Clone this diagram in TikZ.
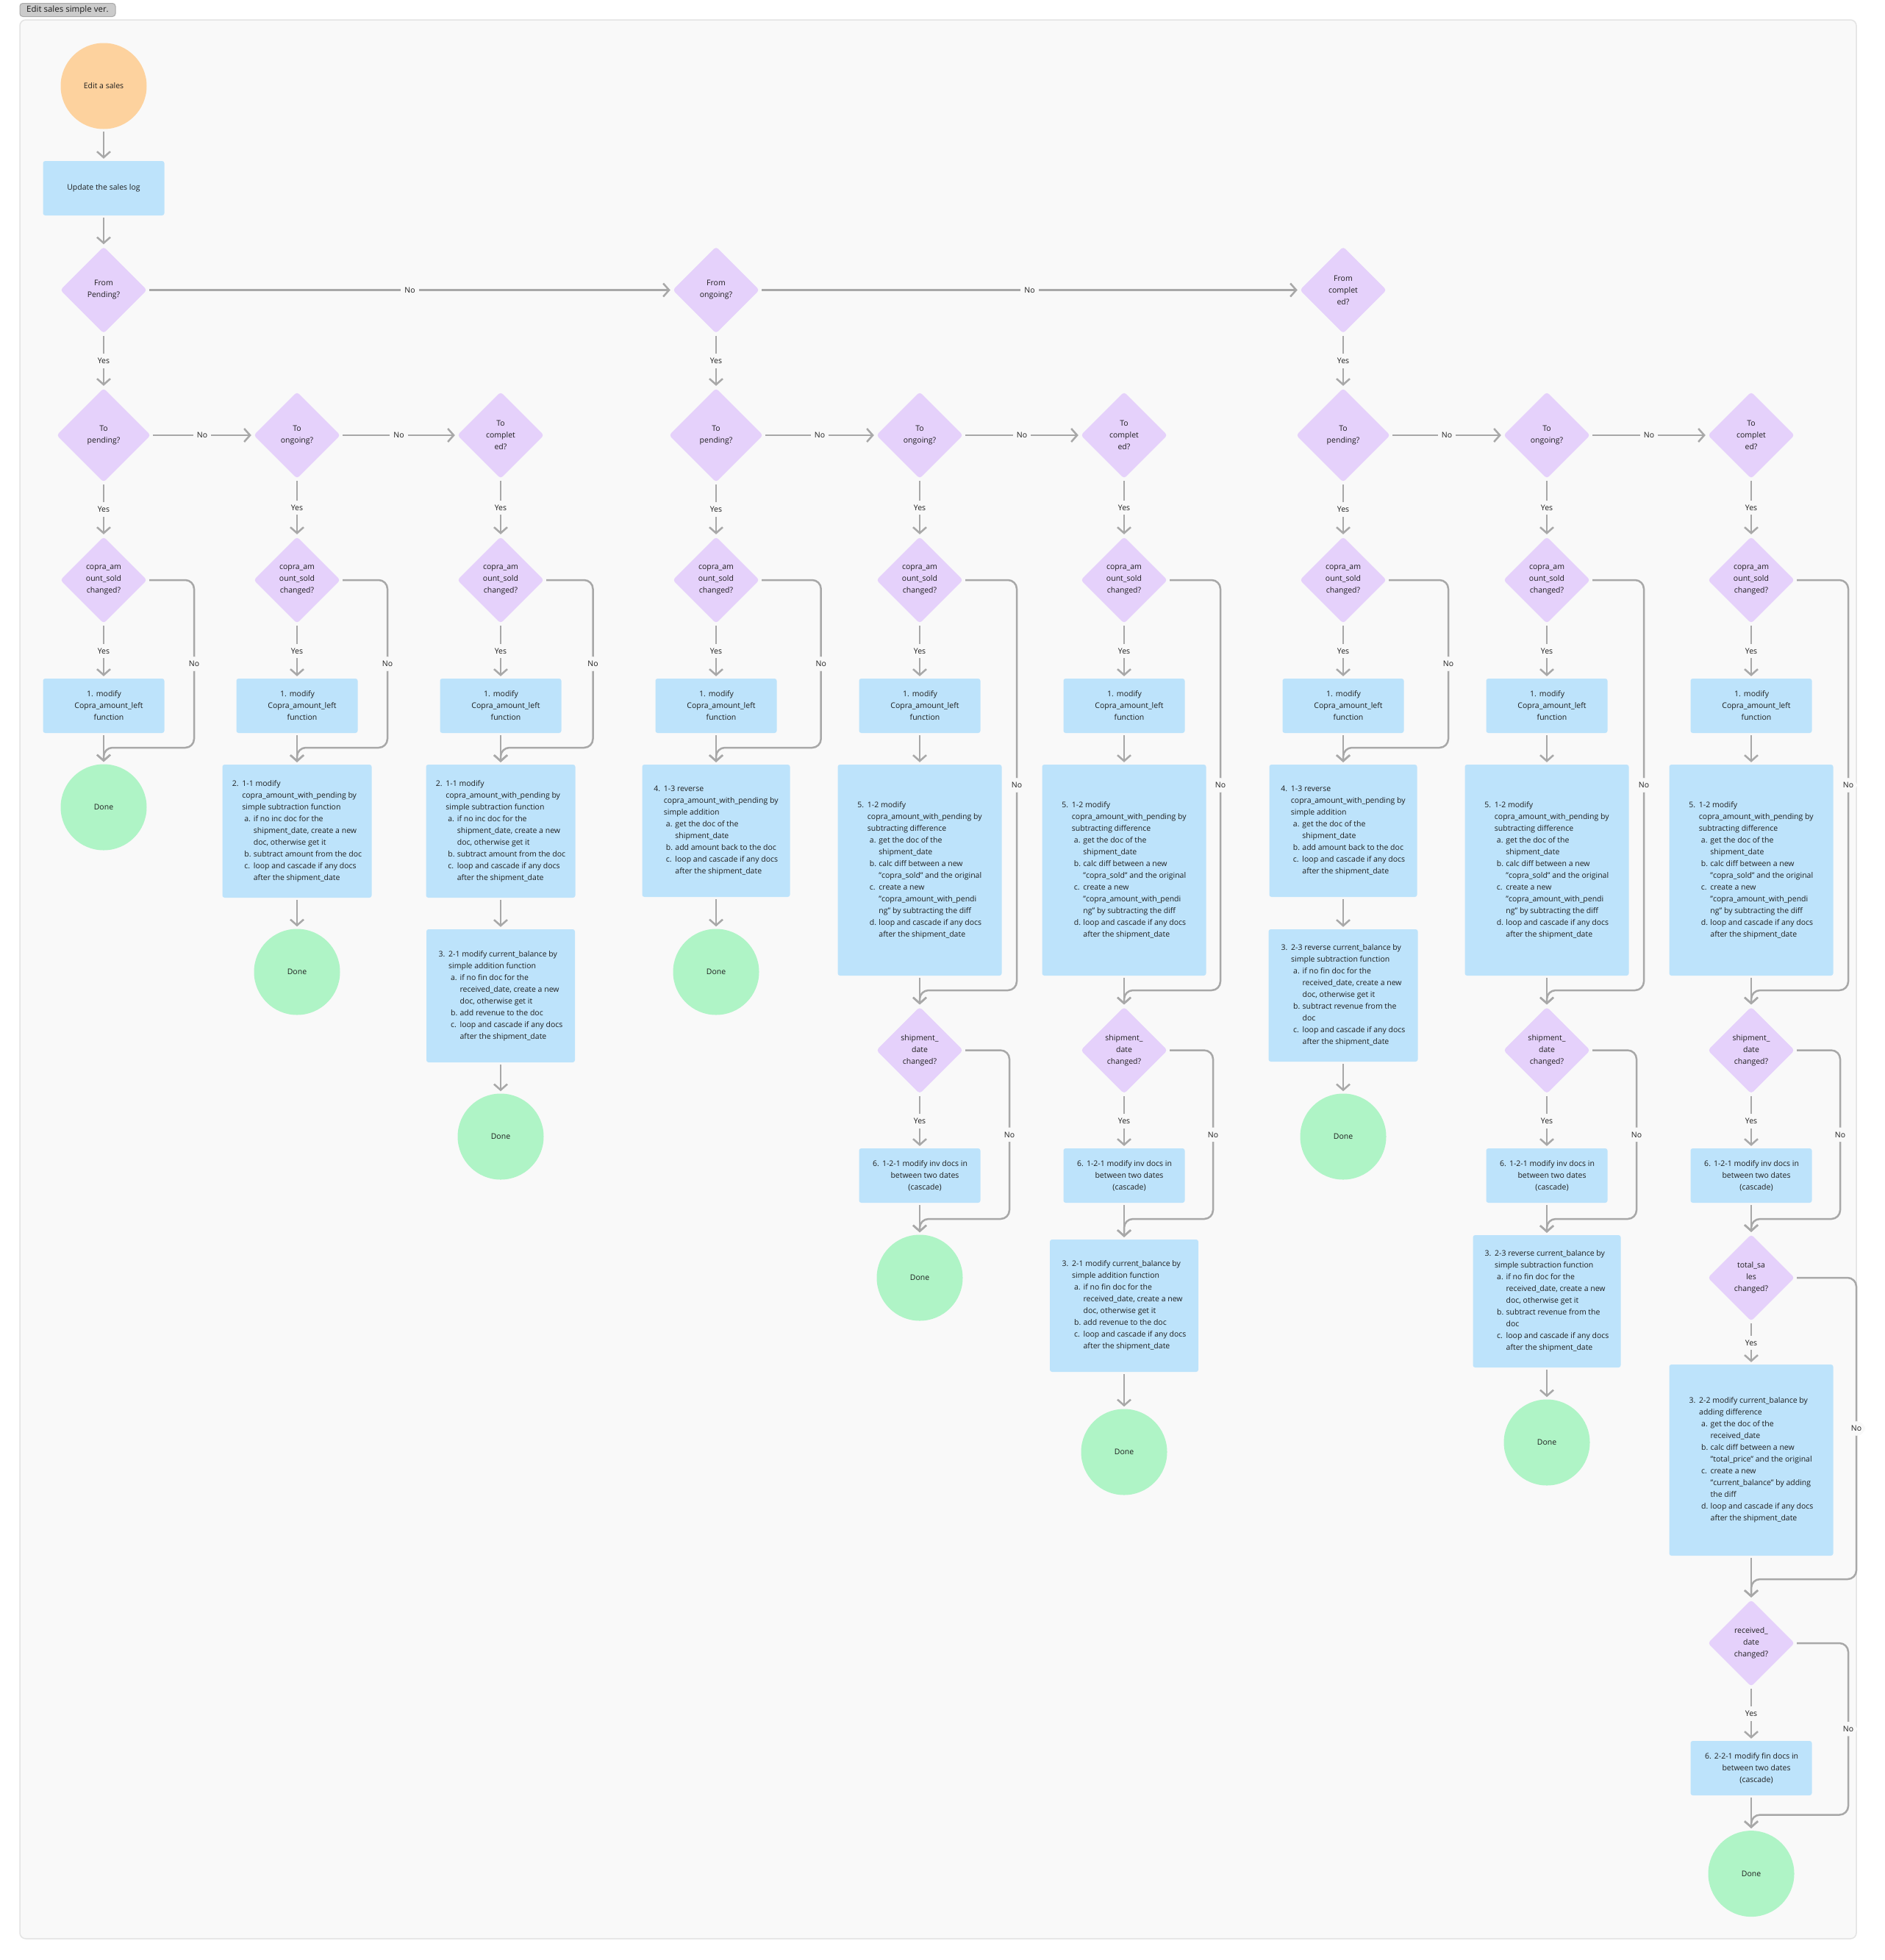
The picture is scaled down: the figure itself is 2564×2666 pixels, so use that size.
\documentclass[tikz,border=0pt]{standalone}
\usepackage{fontspec}
\setmainfont{Open Sans}
\usetikzlibrary{shapes.geometric}
\usetikzlibrary{arrows.meta}

\definecolor{peach}{HTML}{FDD29E}
\definecolor{lilac}{HTML}{E5D1FB}
\definecolor{skyblue}{HTML}{BDE3FB}
\definecolor{mint}{HTML}{AFF4C6}
\definecolor{linegray}{HTML}{A8A8A8}
\definecolor{bggray}{HTML}{F9F9F9}
\definecolor{framegray}{HTML}{E3E3E3}
\definecolor{taggray}{HTML}{CBCBCB}
\definecolor{ink}{HTML}{1E1E1E}

\newcommand{\chartfont}{\fontsize{10.5pt}{16pt}\selectfont}
% list lines inside the blue boxes
\newcommand{\stepmain}[2]{\makebox[13.5pt][l]{#1}#2}
\newcommand{\stepmore}[1]{\hspace*{13.5pt}#1}
\newcommand{\stepsub}[2]{\hspace*{16.5pt}\makebox[12.5pt][l]{#1}#2}
\newcommand{\stepsubmore}[1]{\hspace*{29pt}#1}

\tikzset{
	flow/.style={draw=linegray, line width=2.5pt, -{Straight Barb[length=8pt,width=18pt]}, shorten <=3pt, shorten >=3pt},
	lbl/.style={fill=bggray, text=ink, inner xsep=5pt, inner ysep=6pt, font=\chartfont},
	decision/.style={diamond, aspect=1, fill=lilac, rounded corners=4pt, minimum width=118pt, minimum height=118pt, inner sep=0pt, align=center, text=ink, font=\chartfont},
	bigdecision/.style={decision, minimum width=128pt, minimum height=128pt},
	process/.style={rectangle, fill=skyblue, rounded corners=3pt, minimum width=165pt, minimum height=74pt, inner sep=0pt, align=center, text=ink, font=\chartfont},
	steps/.style 2 args={process, align=left, minimum width=#1, minimum height=#2},
	terminal/.style={circle, fill=mint, minimum size=117pt, inner sep=0pt, text=ink, font=\chartfont},
	entry/.style={terminal, fill=peach},
	tag/.style={rectangle, fill=taggray, draw=linegray, line width=1pt, rounded corners=4pt, minimum width=130pt, minimum height=18pt, inner sep=0pt, text=ink, font=\fontsize{11.5pt}{14pt}\selectfont},
}

\begin{document}
\begin{tikzpicture}[x=1pt,y=-1pt]
	\useasboundingbox (0,0) rectangle (2564,2666);
	\fill[white] (0,0) rectangle (2564,2666);
	\draw[fill=bggray, draw=framegray, line width=1.5pt, rounded corners=8pt] (27,27) rectangle (2525,2637);
	\node[tag] (title) at (92,13.5) {Edit sales simple ver.};

	% top of the chart
	\node[entry] (edit) at (141,117) {Edit a sales};
	\node[process] (update) at (141,256) {Update the sales log};
	\node[decision] (fromP) at (141,394.5) {From\\Pending?};
	\node[decision] (fromO) at (974,394.5) {From\\ongoing?};
	\node[decision] (fromC) at (1827,394.5) {From\\complet\\ed?};

	% target status
	\node[bigdecision] (toP1) at (141,592) {To\\pending?};
	\node[decision] (toO1) at (404,592) {To\\ongoing?};
	\node[decision] (toC1) at (681,592) {To\\complet\\ed?};
	\node[bigdecision] (toP2) at (974,592) {To\\pending?};
	\node[decision] (toO2) at (1251,592) {To\\ongoing?};
	\node[decision] (toC2) at (1529,592) {To\\complet\\ed?};
	\node[bigdecision] (toP3) at (1827,592) {To\\pending?};
	\node[decision] (toO3) at (2104,592) {To\\ongoing?};
	\node[decision] (toC3) at (2382,592) {To\\complet\\ed?};

	% copra amount check
	\node[decision] (cs1) at (141,789) {copra\_am\\ount\_sold\\changed?};
	\node[decision] (cs2) at (404,789) {copra\_am\\ount\_sold\\changed?};
	\node[decision] (cs3) at (681,789) {copra\_am\\ount\_sold\\changed?};
	\node[decision] (cs4) at (974,789) {copra\_am\\ount\_sold\\changed?};
	\node[decision] (cs5) at (1251,789) {copra\_am\\ount\_sold\\changed?};
	\node[decision] (cs6) at (1529,789) {copra\_am\\ount\_sold\\changed?};
	\node[decision] (cs7) at (1827,789) {copra\_am\\ount\_sold\\changed?};
	\node[decision] (cs8) at (2104,789) {copra\_am\\ount\_sold\\changed?};
	\node[decision] (cs9) at (2382,789) {copra\_am\\ount\_sold\\changed?};

	\node[process] (mod1) at (141,960) {\begin{tabular}{@{\hspace{14pt}}c@{}}\llap{1.\hspace{4pt}}modify\\Copra\_amount\_left\\function\end{tabular}};
	\node[process] (mod2) at (404,960) {\begin{tabular}{@{\hspace{14pt}}c@{}}\llap{1.\hspace{4pt}}modify\\Copra\_amount\_left\\function\end{tabular}};
	\node[process] (mod3) at (681,960) {\begin{tabular}{@{\hspace{14pt}}c@{}}\llap{1.\hspace{4pt}}modify\\Copra\_amount\_left\\function\end{tabular}};
	\node[process] (mod4) at (974,960) {\begin{tabular}{@{\hspace{14pt}}c@{}}\llap{1.\hspace{4pt}}modify\\Copra\_amount\_left\\function\end{tabular}};
	\node[process] (mod5) at (1251,960) {\begin{tabular}{@{\hspace{14pt}}c@{}}\llap{1.\hspace{4pt}}modify\\Copra\_amount\_left\\function\end{tabular}};
	\node[process] (mod6) at (1529,960) {\begin{tabular}{@{\hspace{14pt}}c@{}}\llap{1.\hspace{4pt}}modify\\Copra\_amount\_left\\function\end{tabular}};
	\node[process] (mod7) at (1827,960) {\begin{tabular}{@{\hspace{14pt}}c@{}}\llap{1.\hspace{4pt}}modify\\Copra\_amount\_left\\function\end{tabular}};
	\node[process] (mod8) at (2104,960) {\begin{tabular}{@{\hspace{14pt}}c@{}}\llap{1.\hspace{4pt}}modify\\Copra\_amount\_left\\function\end{tabular}};
	\node[process] (mod9) at (2382,960) {\begin{tabular}{@{\hspace{14pt}}c@{}}\llap{1.\hspace{4pt}}modify\\Copra\_amount\_left\\function\end{tabular}};

	% pending to pending
	\node[terminal] (done1) at (141,1098) {Done};

	% pending to ongoing
	\node[steps={203pt}{181pt}] (pend2) at (404,1130.5) {\stepmain{2.}{1-1 modify}\\\stepmore{copra\_amount\_with\_pending by}\\\stepmore{simple subtraction function}\\\stepsub{a.}{if no inc doc for the}\\\stepsubmore{shipment\_date, create a new}\\\stepsubmore{doc, otherwise get it}\\\stepsub{b.}{subtract amount from the doc}\\\stepsub{c.}{loop and cascade if any docs}\\\stepsubmore{after the shipment\_date}};
	\node[terminal] (done2) at (404,1322) {Done};

	% pending to completed
	\node[steps={203pt}{181pt}] (pend3) at (681,1130.5) {\stepmain{2.}{1-1 modify}\\\stepmore{copra\_amount\_with\_pending by}\\\stepmore{simple subtraction function}\\\stepsub{a.}{if no inc doc for the}\\\stepsubmore{shipment\_date, create a new}\\\stepsubmore{doc, otherwise get it}\\\stepsub{b.}{subtract amount from the doc}\\\stepsub{c.}{loop and cascade if any docs}\\\stepsubmore{after the shipment\_date}};
	\node[steps={202pt}{181pt}] (bal3) at (681,1354.5) {\stepmain{3.}{2-1 modify current\_balance by}\\\stepmore{simple addition function}\\\stepsub{a.}{if no fin doc for the}\\\stepsubmore{received\_date, create a new}\\\stepsubmore{doc, otherwise get it}\\\stepsub{b.}{add revenue to the doc}\\\stepsub{c.}{loop and cascade if any docs}\\\stepsubmore{after the shipment\_date}};
	\node[terminal] (done3) at (681,1546) {Done};

	% ongoing to pending
	\node[steps={201pt}{180pt}] (rev4) at (974,1130) {\stepmain{4.}{1-3 reverse}\\\stepmore{copra\_amount\_with\_pending by}\\\stepmore{simple addition}\\\stepsub{a.}{get the doc of the}\\\stepsubmore{shipment\_date}\\\stepsub{b.}{add amount back to the doc}\\\stepsub{c.}{loop and cascade if any docs}\\\stepsubmore{after the shipment\_date}};
	\node[terminal] (done4) at (974,1322) {Done};

	% ongoing to ongoing
	\node[steps={223pt}{287pt}] (diff5) at (1251,1183.5) {\stepmain{5.}{1-2 modify}\\\stepmore{copra\_amount\_with\_pending by}\\\stepmore{subtracting difference}\\\stepsub{a.}{get the doc of the}\\\stepsubmore{shipment\_date}\\\stepsub{b.}{calc diff between a new}\\\stepsubmore{"copra\_sold" and the original}\\\stepsub{c.}{create a new}\\\stepsubmore{"copra\_amount\_with\_pendi}\\\stepsubmore{ng" by subtracting the diff}\\\stepsub{d.}{loop and cascade if any docs}\\\stepsubmore{after the shipment\_date}};
	\node[decision] (ship5) at (1251,1428.6) {shipment\_\\date\\changed?};
	\node[process] (inv5) at (1251,1599) {\begin{tabular}{@{\hspace{14pt}}c@{}}\llap{6.\hspace{4pt}}1-2-1 modify inv docs in\\between two dates\\(cascade)\end{tabular}};
	\node[terminal] (done5) at (1251,1738) {Done};

	% ongoing to completed
	\node[steps={223pt}{287pt}] (diff6) at (1529,1183.5) {\stepmain{5.}{1-2 modify}\\\stepmore{copra\_amount\_with\_pending by}\\\stepmore{subtracting difference}\\\stepsub{a.}{get the doc of the}\\\stepsubmore{shipment\_date}\\\stepsub{b.}{calc diff between a new}\\\stepsubmore{"copra\_sold" and the original}\\\stepsub{c.}{create a new}\\\stepsubmore{"copra\_amount\_with\_pendi}\\\stepsubmore{ng" by subtracting the diff}\\\stepsub{d.}{loop and cascade if any docs}\\\stepsubmore{after the shipment\_date}};
	\node[decision] (ship6) at (1529,1428.6) {shipment\_\\date\\changed?};
	\node[process] (inv6) at (1529,1599) {\begin{tabular}{@{\hspace{14pt}}c@{}}\llap{6.\hspace{4pt}}1-2-1 modify inv docs in\\between two dates\\(cascade)\end{tabular}};
	\node[steps={202pt}{180pt}] (bal6) at (1529,1776) {\stepmain{3.}{2-1 modify current\_balance by}\\\stepmore{simple addition function}\\\stepsub{a.}{if no fin doc for the}\\\stepsubmore{received\_date, create a new}\\\stepsubmore{doc, otherwise get it}\\\stepsub{b.}{add revenue to the doc}\\\stepsub{c.}{loop and cascade if any docs}\\\stepsubmore{after the shipment\_date}};
	\node[terminal] (done6) at (1529,1975) {Done};

	% completed to pending
	\node[steps={201pt}{180pt}] (rev7) at (1827,1130) {\stepmain{4.}{1-3 reverse}\\\stepmore{copra\_amount\_with\_pending by}\\\stepmore{simple addition}\\\stepsub{a.}{get the doc of the}\\\stepsubmore{shipment\_date}\\\stepsub{b.}{add amount back to the doc}\\\stepsub{c.}{loop and cascade if any docs}\\\stepsubmore{after the shipment\_date}};
	\node[steps={203pt}{180pt}] (bal7) at (1827,1354) {\stepmain{3.}{2-3 reverse current\_balance by}\\\stepmore{simple subtraction function}\\\stepsub{a.}{if no fin doc for the}\\\stepsubmore{received\_date, create a new}\\\stepsubmore{doc, otherwise get it}\\\stepsub{b.}{subtract revenue from the}\\\stepsubmore{doc}\\\stepsub{c.}{loop and cascade if any docs}\\\stepsubmore{after the shipment\_date}};
	\node[terminal] (done7) at (1827,1546) {Done};

	% completed to ongoing
	\node[steps={223pt}{287pt}] (diff8) at (2104,1183.5) {\stepmain{5.}{1-2 modify}\\\stepmore{copra\_amount\_with\_pending by}\\\stepmore{subtracting difference}\\\stepsub{a.}{get the doc of the}\\\stepsubmore{shipment\_date}\\\stepsub{b.}{calc diff between a new}\\\stepsubmore{"copra\_sold" and the original}\\\stepsub{c.}{create a new}\\\stepsubmore{"copra\_amount\_with\_pendi}\\\stepsubmore{ng" by subtracting the diff}\\\stepsub{d.}{loop and cascade if any docs}\\\stepsubmore{after the shipment\_date}};
	\node[decision] (ship8) at (2104,1428.6) {shipment\_\\date\\changed?};
	\node[process] (inv8) at (2104,1599) {\begin{tabular}{@{\hspace{14pt}}c@{}}\llap{6.\hspace{4pt}}1-2-1 modify inv docs in\\between two dates\\(cascade)\end{tabular}};
	\node[steps={201pt}{180pt}] (bal8) at (2104,1770) {\stepmain{3.}{2-3 reverse current\_balance by}\\\stepmore{simple subtraction function}\\\stepsub{a.}{if no fin doc for the}\\\stepsubmore{received\_date, create a new}\\\stepsubmore{doc, otherwise get it}\\\stepsub{b.}{subtract revenue from the}\\\stepsubmore{doc}\\\stepsub{c.}{loop and cascade if any docs}\\\stepsubmore{after the shipment\_date}};
	\node[terminal] (done8) at (2104,1962) {Done};

	% completed to completed
	\node[steps={223pt}{287pt}] (diff9) at (2382,1183.5) {\stepmain{5.}{1-2 modify}\\\stepmore{copra\_amount\_with\_pending by}\\\stepmore{subtracting difference}\\\stepsub{a.}{get the doc of the}\\\stepsubmore{shipment\_date}\\\stepsub{b.}{calc diff between a new}\\\stepsubmore{"copra\_sold" and the original}\\\stepsub{c.}{create a new}\\\stepsubmore{"copra\_amount\_with\_pendi}\\\stepsubmore{ng" by subtracting the diff}\\\stepsub{d.}{loop and cascade if any docs}\\\stepsubmore{after the shipment\_date}};
	\node[decision] (ship9) at (2382,1428.6) {shipment\_\\date\\changed?};
	\node[process] (inv9) at (2382,1599) {\begin{tabular}{@{\hspace{14pt}}c@{}}\llap{6.\hspace{4pt}}1-2-1 modify inv docs in\\between two dates\\(cascade)\end{tabular}};
	\node[decision] (tot9) at (2382,1738) {total\_sa\\les\\changed?};
	\node[steps={223pt}{260pt}] (bal9) at (2382,1986) {\stepmain{3.}{2-2 modify current\_balance by}\\\stepmore{adding difference}\\\stepsub{a.}{get the doc of the}\\\stepsubmore{received\_date}\\\stepsub{b.}{calc diff between a new}\\\stepsubmore{"total\_price" and the original}\\\stepsub{c.}{create a new}\\\stepsubmore{"current\_balance" by adding}\\\stepsubmore{the diff}\\\stepsub{d.}{loop and cascade if any docs}\\\stepsubmore{after the shipment\_date}};
	\node[decision] (recv9) at (2382,2235) {received\_\\date\\changed?};
	\node[process] (fin9) at (2382,2405) {\begin{tabular}{@{\hspace{14pt}}c@{}}\llap{6.\hspace{4pt}}2-2-1 modify fin docs in\\between two dates\\(cascade)\end{tabular}};
	\node[terminal] (done9) at (2382,2548.6) {Done};

	% turning points of the No branches
	\coordinate (k1) at (264,1017);
	\coordinate (k2) at (527,1017);
	\coordinate (k3) at (806.5,1017);
	\coordinate (k4) at (1116.7,1017);
	\coordinate (k5) at (1383,1347);
	\coordinate (k5b) at (1373,1658);
	\coordinate (k6) at (1660,1347);
	\coordinate (k6b) at (1650,1658);
	\coordinate (k7) at (1970,1017);
	\coordinate (k8) at (2236,1347);
	\coordinate (k8b) at (2226,1658);
	\coordinate (k9) at (2514,1347);
	\coordinate (k9b) at (2503,1658);
	\coordinate (k9c) at (2525,2148);
	\coordinate (k9d) at (2514,2468.5);

	% connectors
	\draw[flow] (edit) -- (update);
	\draw[flow] (update) -- (fromP);
	\draw[flow] (fromP) -- node[lbl]{No} (fromO);
	\draw[flow] (fromO) -- node[lbl]{No} (fromC);
	\draw[flow] (fromP) -- node[lbl]{Yes} (toP1);
	\draw[flow] (fromO) -- node[lbl]{Yes} (toP2);
	\draw[flow] (fromC) -- node[lbl]{Yes} (toP3);

	\draw[flow] (toP1) -- node[lbl]{No} (toO1);
	\draw[flow] (toO1) -- node[lbl]{No} (toC1);
	\draw[flow] (toP2) -- node[lbl]{No} (toO2);
	\draw[flow] (toO2) -- node[lbl]{No} (toC2);
	\draw[flow] (toP3) -- node[lbl]{No} (toO3);
	\draw[flow] (toO3) -- node[lbl]{No} (toC3);

	\draw[flow] (toP1) -- node[lbl]{Yes} (cs1);
	\draw[flow] (toO1) -- node[lbl]{Yes} (cs2);
	\draw[flow] (toC1) -- node[lbl]{Yes} (cs3);
	\draw[flow] (toP2) -- node[lbl]{Yes} (cs4);
	\draw[flow] (toO2) -- node[lbl]{Yes} (cs5);
	\draw[flow] (toC2) -- node[lbl]{Yes} (cs6);
	\draw[flow] (toP3) -- node[lbl]{Yes} (cs7);
	\draw[flow] (toO3) -- node[lbl]{Yes} (cs8);
	\draw[flow] (toC3) -- node[lbl]{Yes} (cs9);

	\draw[flow] (cs1) -- node[lbl]{Yes} (mod1);
	\draw[flow] (cs2) -- node[lbl]{Yes} (mod2);
	\draw[flow] (cs3) -- node[lbl]{Yes} (mod3);
	\draw[flow] (cs4) -- node[lbl]{Yes} (mod4);
	\draw[flow] (cs5) -- node[lbl]{Yes} (mod5);
	\draw[flow] (cs6) -- node[lbl]{Yes} (mod6);
	\draw[flow] (cs7) -- node[lbl]{Yes} (mod7);
	\draw[flow] (cs8) -- node[lbl]{Yes} (mod8);
	\draw[flow] (cs9) -- node[lbl]{Yes} (mod9);

	\draw[flow] (mod1) -- (done1);
	\draw[flow] (mod2) -- (pend2);
	\draw[flow] (mod3) -- (pend3);
	\draw[flow] (mod4) -- (rev4);
	\draw[flow] (mod5) -- (diff5);
	\draw[flow] (mod6) -- (diff6);
	\draw[flow] (mod7) -- (rev7);
	\draw[flow] (mod8) -- (diff8);
	\draw[flow] (mod9) -- (diff9);

	\draw[flow] (pend2) -- (done2);
	\draw[flow] (pend3) -- (bal3);
	\draw[flow] (bal3) -- (done3);
	\draw[flow] (rev4) -- (done4);
	\draw[flow] (diff5) -- (ship5);
	\draw[flow] (ship5) -- node[lbl]{Yes} (inv5);
	\draw[flow] (inv5) -- (done5);
	\draw[flow] (diff6) -- (ship6);
	\draw[flow] (ship6) -- node[lbl]{Yes} (inv6);
	\draw[flow] (inv6) -- (bal6);
	\draw[flow] (bal6) -- (done6);
	\draw[flow] (rev7) -- (bal7);
	\draw[flow] (bal7) -- (done7);
	\draw[flow] (diff8) -- (ship8);
	\draw[flow] (ship8) -- node[lbl]{Yes} (inv8);
	\draw[flow] (inv8) -- (bal8);
	\draw[flow] (bal8) -- (done8);
	\draw[flow] (diff9) -- (ship9);
	\draw[flow] (ship9) -- node[lbl]{Yes} (inv9);
	\draw[flow] (inv9) -- (tot9);
	\draw[flow] (tot9) -- node[lbl]{Yes} (bal9);
	\draw[flow] (bal9) -- (recv9);
	\draw[flow] (recv9) -- node[lbl]{Yes} (fin9);
	\draw[flow] (fin9) -- (done9);

	% No branches
	\draw[flow, rounded corners=12pt] (cs1.east) -| node[lbl,pos=0.75]{No} (k1) -- (k1 -| done1) -- (done1);
	\draw[flow, rounded corners=12pt] (cs2.east) -| node[lbl,pos=0.75]{No} (k2) -- (k2 -| pend2) -- (pend2);
	\draw[flow, rounded corners=12pt] (cs3.east) -| node[lbl,pos=0.75]{No} (k3) -- (k3 -| pend3) -- (pend3);
	\draw[flow, rounded corners=12pt] (cs4.east) -| node[lbl,pos=0.75]{No} (k4) -- (k4 -| rev4) -- (rev4);
	\draw[flow, rounded corners=12pt] (cs5.east) -| node[lbl,pos=0.75]{No} (k5) -- (k5 -| ship5) -- (ship5);
	\draw[flow, rounded corners=12pt] (ship5.east) -| node[lbl,pos=0.75]{No} (k5b) -- (k5b -| done5) -- (done5);
	\draw[flow, rounded corners=12pt] (cs6.east) -| node[lbl,pos=0.75]{No} (k6) -- (k6 -| ship6) -- (ship6);
	\draw[flow, rounded corners=12pt] (ship6.east) -| node[lbl,pos=0.75]{No} (k6b) -- (k6b -| bal6) -- (bal6);
	\draw[flow, rounded corners=12pt] (cs7.east) -| node[lbl,pos=0.75]{No} (k7) -- (k7 -| rev7) -- (rev7);
	\draw[flow, rounded corners=12pt] (cs8.east) -| node[lbl,pos=0.75]{No} (k8) -- (k8 -| ship8) -- (ship8);
	\draw[flow, rounded corners=12pt] (ship8.east) -| node[lbl,pos=0.75]{No} (k8b) -- (k8b -| bal8) -- (bal8);
	\draw[flow, rounded corners=12pt] (cs9.east) -| node[lbl,pos=0.75]{No} (k9) -- (k9 -| ship9) -- (ship9);
	\draw[flow, rounded corners=12pt] (ship9.east) -| node[lbl,pos=0.75]{No} (k9b) -- (k9b -| tot9) -- (tot9);
	\draw[flow, rounded corners=12pt] (tot9.east) -| node[lbl,pos=0.75]{No} (k9c) -- (k9c -| recv9) -- (recv9);
	\draw[flow, rounded corners=12pt] (recv9.east) -| node[lbl,pos=0.75]{No} (k9d) -- (k9d -| done9) -- (done9);
\end{tikzpicture}
\end{document}
